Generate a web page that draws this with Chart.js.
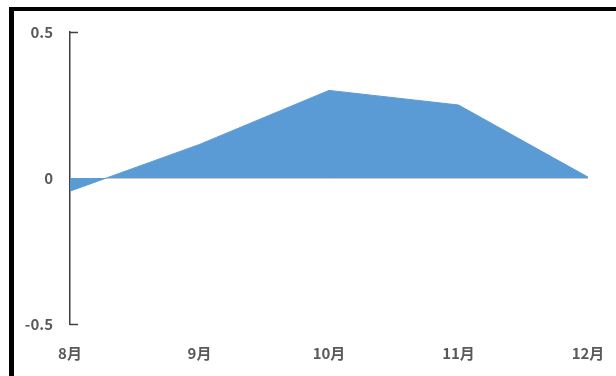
<!DOCTYPE html>
<html>
<head>
<meta charset="utf-8">
<script src="https://cdn.jsdelivr.net/npm/chart.js@4/dist/chart.umd.min.js"></script>
<style>
  html, body { margin: 0; padding: 0; background: #fff; }
  #wrap { position: relative; width: 616px; height: 376px; overflow: hidden; }
  #frame { position: absolute; left: 9px; top: 7px; right: -10px; bottom: -10px;
           border-top: 4px solid #000; border-left: 5px solid #000; pointer-events: none; }
  canvas { position: absolute; left: 0; top: 0; }
</style>
</head>
<body>
<div id="wrap">
  <canvas id="c" width="616" height="376"></canvas>
  <div id="frame"></div>
</div>
<script>
// Monthly values
const months = ['8月', '9月', '10月', '11月', '12月'];
const values = [-0.045, 0.115, 0.3, 0.25, 0.003];
const yTicks = [-0.5, 0, 0.5];

const FONT = "'Noto Sans CJK SC', 'Noto Sans', sans-serif";
const TEXT = '#595959';

// short inward tick marks on the y axis
const innerTicks = {
  id: 'innerTicks',
  afterDraw(chart) {
    const y = chart.scales.y;
    const ctx = chart.ctx;
    ctx.save();
    ctx.strokeStyle = '#404040';
    ctx.lineWidth = 1.5;
    [yTicks[0], yTicks[yTicks.length - 1]].forEach(v => {
      const py = Math.round(y.getPixelForValue(v)) + 0.5;
      ctx.beginPath();
      ctx.moveTo(y.right, py);
      ctx.lineTo(y.right + 8, py);
      ctx.stroke();
    });
    ctx.restore();
  }
};

new Chart(document.getElementById('c'), {
  type: 'line',
  data: {
    labels: months,
    datasets: [{
      data: values,
      fill: 'origin',
      backgroundColor: '#5B9BD5',
      borderColor: '#5B9BD5',
      borderWidth: 1,
      pointRadius: 0,
      tension: 0
    }]
  },
  options: {
    responsive: false,
    animation: false,
    devicePixelRatio: 1,
    layout: { padding: { left: 0, top: 32, right: 28, bottom: 0 } },
    plugins: { legend: { display: false }, tooltip: { enabled: false } },
    scales: {
      x: {
        offset: false,
        grid: { display: false, drawTicks: false },
        border: { display: false },
        ticks: { padding: 20, color: TEXT, font: { family: FONT, size: 15, weight: 'bold' }, maxRotation: 0 },
        afterFit(s) { s.height = 52; s.paddingRight = 0; s.paddingLeft = 0; }
      },
      y: {
        min: -0.5, max: 0.5,
        afterBuildTicks(s) { s.ticks = yTicks.map(v => ({ value: v })); },
        grid: {
          drawTicks: false,
          tickLength: 0,
          color: ctx => (ctx.tick && ctx.tick.value === 0) ? '#c9c9c9' : 'rgba(0,0,0,0)',
          lineWidth: 1
        },
        border: { display: true, color: '#404040', width: 1.5 },
        ticks: {
          padding: 17,
          color: TEXT,
          font: { family: FONT, size: 15, weight: 'bold' },
          callback: v => String(v)
        },
        afterFit(s) { s.width = 70; }
      }
    }
  },
  plugins: [innerTicks]
});
</script>
</body>
</html>
